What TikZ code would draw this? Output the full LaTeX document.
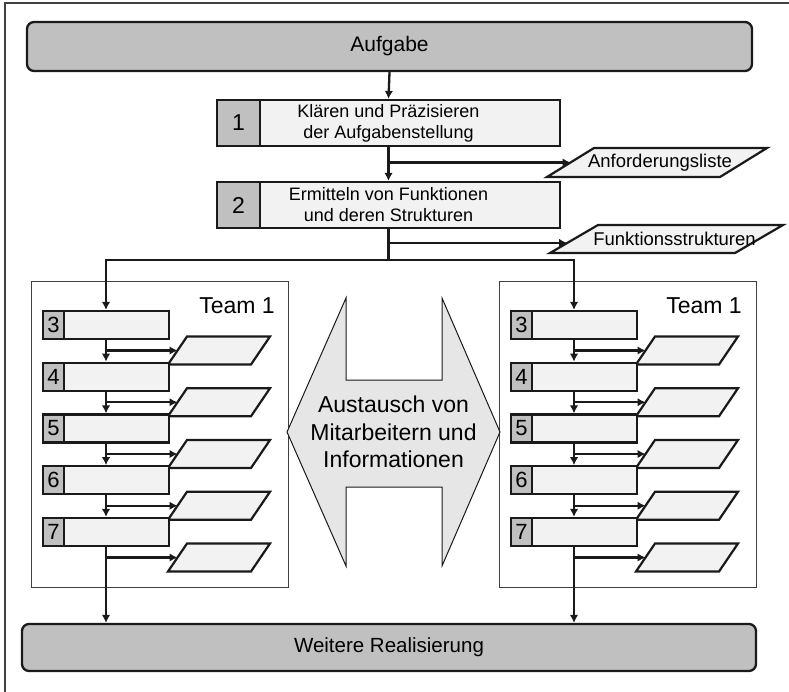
\documentclass[tikz,border=0pt]{standalone}
\usepackage{fontspec}
\setmainfont{Liberation Sans}
\usetikzlibrary{arrows.meta,calc}

\definecolor{barfill}{HTML}{C0C0C0}
\definecolor{cellfill}{HTML}{F2F2F2}
\definecolor{swapfill}{HTML}{E6E6E6}
\definecolor{ink}{HTML}{1A1A1A}
\definecolor{frameink}{HTML}{404040}

% slanted result document: name, centre x, centre y, total width, height, slant, text
\newcommand\docbox[7]{%
  \draw[docline] (#2-#4/2,#3+#5/2) -- ++(#4-#6,0) -- ++(#6,-#5) -- ++(-#4+#6,0) -- cycle;
  \node[doctext] (#1) at (#2,#3) {#7};
  \coordinate (#1-in) at (#2-#4/2+#6/2,#3);
}

\begin{document}
\begin{tikzpicture}[x=1pt,y=-1pt,
  bar/.style={draw=ink, line width=2.3pt, fill=barfill, rounded corners=7pt,
    inner sep=0pt},
  stepbody/.style={draw=ink, line width=2.2pt, fill=cellfill, inner sep=0pt,
    align=center, font=\fontsize{18}{21}\selectfont},
  stepnum/.style={draw=ink, line width=2.2pt, fill=barfill, inner sep=0pt,
    font=\fontsize{23}{23}\selectfont},
  docline/.style={draw=ink, line width=2.2pt, fill=cellfill, line join=miter},
  doctext/.style={inner sep=0pt, font=\fontsize{18.5}{20}\selectfont},
  smallbody/.style={stepbody, minimum width=126pt, minimum height=28pt},
  smallnum/.style={stepnum, minimum width=21pt, minimum height=28pt,
    font=\fontsize{22}{22}\selectfont},
  teamframe/.style={draw=frameink, line width=1pt, minimum width=257pt,
    minimum height=305pt, inner sep=0pt},
  teamlabel/.style={font=\fontsize{23}{23}\selectfont, inner sep=0pt},
  conn/.style={draw=ink, line width=2.3pt},
  arr/.style={conn, -{Latex[length=8pt,width=8.5pt]}},
]
\useasboundingbox (0,0) rectangle (789,692);

% page frame (only its left and top edges fall inside the picture)
\draw[frameink, line width=1.2pt] (5,692) -- (5,3) -- (789,3);

% start and end bars
\node[bar, minimum width=725pt, minimum height=49pt, font=\fontsize{21}{24}\selectfont]
  (task) at (389.5,46.5) {Aufgabe};
\node[bar, minimum width=734pt, minimum height=47pt, font=\fontsize{20.5}{24}\selectfont]
  (real) at (389,647.5) {Weitere Realisierung};

% steps 1 and 2
\node[stepbody, minimum width=343pt, minimum height=46pt] (s1) at (388.5,123)
  {Klären und Präzisieren\\der Aufgabenstellung};
\node[stepnum, minimum width=43pt, minimum height=46pt] (n1) at (238.5,123) {1};
\node[stepbody, minimum width=343pt, minimum height=46pt] (s2) at (388.5,205)
  {Ermitteln von Funktionen\\und deren Strukturen};
\node[stepnum, minimum width=43pt, minimum height=46pt] (n2) at (238.5,205) {2};

% results of steps 1 and 2
\docbox{req}{657}{162.5}{220}{29}{47}{\hspace*{6pt}Anforderungsliste}
\docbox{fun}{666.5}{239}{233}{28}{48}{\hspace*{16pt}Funktionsstrukturen}

\draw[arr] (task.south) -- (s1.north);
\draw[arr] (s1.south) -- (s2.north);
\draw[arr] (s1.south |- req-in) -- (req-in);
\coordinate (funin) at (550+48*10/28,243);
\draw[arr] (s2.south |- funin) -- (funin);

% team frames and labels
\node[teamframe] (teamL) at (159.5,434.5) {};
\node[teamframe] (teamR) at (627.5,434.5) {};
\node[teamlabel, anchor=base east] (labL) at (275,313) {Team 1};
\node[teamlabel, anchor=base east] (labR) at (742,313) {Team 1};

% steps 3 to 7 of both teams
\foreach \k/\t in {3/311,4/362.75,5/414.5,6/466.25,7/518}{
  \foreach \side/\dx in {L/0,R/468}{
    \node[smallbody] (b\side\k) at (106+\dx,\t+14) {};
    \node[smallnum] (n\side\k) at (53.5+\dx,\t+14) {\k};
    \docbox{p\side\k}{219+\dx}{\t+39.5}{102}{28}{19}{}
    \draw[arr] (b\side\k.south |- p\side\k-in) -- (p\side\k-in);
  }
}
\foreach \side in {L,R}{
  \draw[arr] (b\side3.south) -- (b\side4.north);
  \draw[arr] (b\side4.south) -- (b\side5.north);
  \draw[arr] (b\side5.south) -- (b\side6.north);
  \draw[arr] (b\side6.south) -- (b\side7.north);
  \draw[arr] (b\side7.south) -- (b\side7.south |- real.north);
}

% split below step 2
\coordinate (split) at (s2.south |- 0,260);
\draw[arr] (s2.south) -- (split) -| (bL3.north);
\draw[arr] (split) -| (bR3.north);

% exchange between the teams
\draw[draw=ink, line width=1pt, fill=swapfill]
  (287,432) -- (346,298) -- (346,380) -- (442,380) -- (442,298) -- (500,432)
  -- (442,566) -- (442,487) -- (346,487) -- (346,566) -- cycle;
\node[align=center, font=\fontsize{23}{27.5}\selectfont, inner sep=0pt] (swap) at (393.5,432)
  {Austausch von\\Mitarbeitern und\\Informationen};
\end{tikzpicture}
\end{document}
